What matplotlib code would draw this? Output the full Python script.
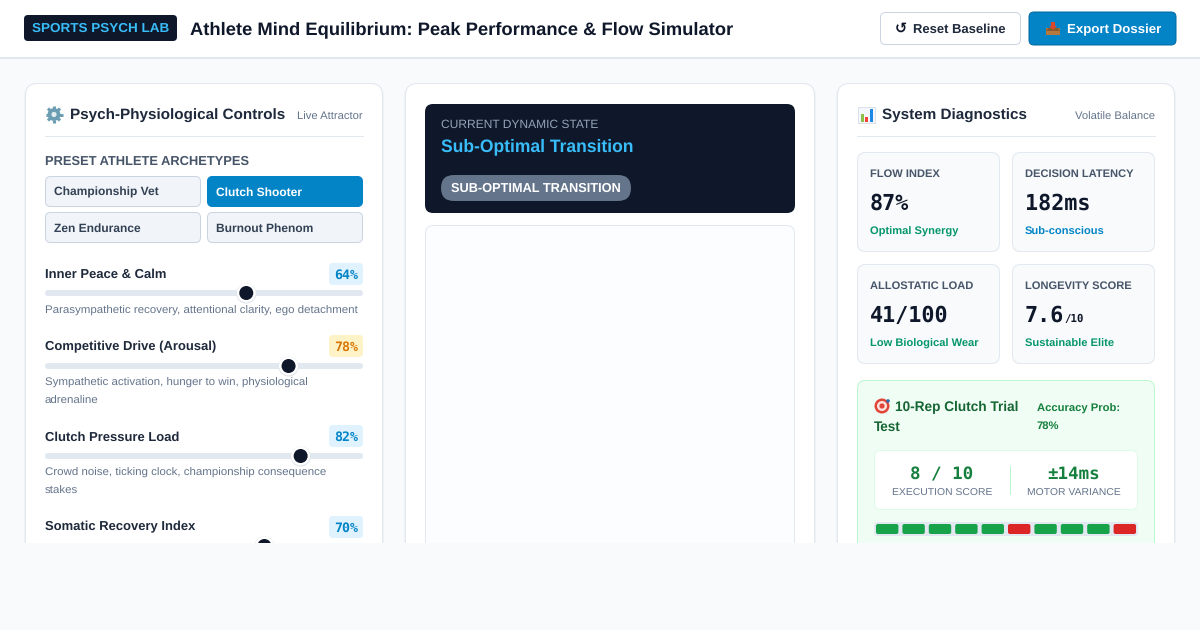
import numpy as np
import matplotlib
matplotlib.use("Agg")
from matplotlib import pyplot as plt
from matplotlib.patches import Circle, FancyBboxPatch, Polygon, Rectangle

plt.rcParams["text.hinting"] = "no_hinting"

# slider panel
slider_names = ["Inner Peace & Calm", "Competitive Drive (Arousal)", "Clutch Pressure Load", "Somatic Recovery Index"]
slider_values = [64, 78, 82, 70]
slider_notes = [
    ["Parasympathetic recovery, attentional clarity, ego detachment"],
    ["Sympathetic activation, hunger to win, physiological", "adrenaline"],
    ["Crowd noise, ticking clock, championship consequence", "stakes"],
    [],
]
slider_warn = [False, True, False, False]
presets = ["Championship Vet", "Clutch Shooter", "Zen Endurance", "Burnout Phenom"]
active_preset = "Clutch Shooter"

# diagnostics panel
metric_names = ["FLOW INDEX", "DECISION LATENCY", "ALLOSTATIC LOAD", "LONGEVITY SCORE"]
metric_values = ["87%", "182ms", "41/100", "7.6"]
metric_suffix = ["", "", "", "/10"]
metric_notes = ["Optimal Synergy", "Sub-conscious", "Low Biological Wear", "Sustainable Elite"]
metric_note_colors = ["#059669", "#0284c7", "#059669", "#059669"]
trial_results = [1, 1, 1, 1, 1, 0, 1, 1, 1, 0]

SANS = "Liberation Sans"
MONO = "DejaVu Sans Mono"
INK = "#0f172a"
SLATE = "#1e293b"
MUTED = "#64748b"
BLUE = "#0284c7"
LINE = "#e2e8f0"
LW = 0.72

fig = plt.figure(figsize=(12, 6.3), dpi=100, facecolor="#f8fafc")
ax = fig.add_axes([0, 0, 1, 1])
ax.set_xlim(0, 1200)
ax.set_ylim(630, 0)
ax.axis("off")
renderer = fig.canvas.get_renderer()


def box(x0, y0, x1, y1, fill, edge="none", r=8, lw=LW, z=1.0):
    ax.add_patch(FancyBboxPatch((x0 + r, y0 + r), x1 - x0 - 2 * r, y1 - y0 - 2 * r,
                                boxstyle=f"round,pad={r},rounding_size={r}",
                                fc=fill, ec=edge, lw=lw, zorder=z))


def put(x, y, s, px, color, weight="normal", family=SANS, ha="left", width=None):
    t = ax.text(x, y, s, fontsize=px * 0.72, color=color, fontweight=weight,
                family=family, ha=ha, va="baseline", zorder=3)
    # letter spaced css text, scale it to the width it has in the page
    if width:
        t.set_fontsize(t.get_fontsize() * width / t.get_window_extent(renderer).width)
    return t


def card(x0, y0, x1, y1):
    box(x0 - 1, y0 + 1, x1 + 1, y1 + 3, "#eff3f8", r=13, z=0.8)
    box(x0 + 0.5, y0 + 0.5, x1 - 0.5, y1, "white", LINE, r=12, z=1.0)


# header
ax.add_patch(Rectangle((0, 0), 1200, 57, fc="white", ec="none", zorder=0.5))
ax.add_patch(Rectangle((0, 57), 1200, 2, fc=LINE, ec="none", zorder=0.5))
box(24, 15, 177, 41, INK, r=4)
put(32, 32, "SPORTS PSYCH LAB", 12, "#38bdf8", "bold", width=137)
put(190, 34, "Athlete Mind Equilibrium: Peak Performance & Flow Simulator", 21, INK, "bold", width=544)

box(880.5, 12.5, 1020.5, 44.5, "white", "#cbd5e1", r=5)
put(895, 33, "↺", 14.5, INK, "bold", family="DejaVu Sans")
put(913, 33, "Reset Baseline", 13.5, SLATE, "bold", width=93)
box(1029, 12, 1176, 45, BLUE, "#0369a1", r=5)
ax.add_patch(Rectangle((1046, 28), 14, 7, fc="#b5793f", ec="none", zorder=2))
ax.add_patch(Polygon([(1048, 28), (1058, 28), (1060, 31), (1046, 31)], fc="#8a5a2b", ec="none", zorder=2))
ax.add_patch(Polygon([(1051, 22), (1055, 22), (1055, 26), (1057, 26), (1053, 30), (1049, 26), (1051, 26)],
                     fc="#d9482b", ec="none", zorder=2.1))
put(1067, 33, "Export Dossier", 13.5, "white", "bold", width=94)

# three cards
card(25, 83, 383, 640)
card(405, 83, 815, 640)
card(837, 83, 1175, 640)

# left card, gear icon
for a in np.arange(0, 360, 45):
    c, s = np.cos(np.radians(a)), np.sin(np.radians(a))
    ax.plot([54 + 5 * c, 54 + 8.5 * c], [114.5 + 5 * s, 114.5 + 8.5 * s], color="#6b9db3",
            lw=2.2, solid_capstyle="butt", zorder=2)
ax.add_patch(Circle((54, 114.5), 6.4, fc="#6b9db3", ec="none", zorder=2))
ax.add_patch(Circle((54, 114.5), 2.6, fc="#e4edf2", ec="none", zorder=2.1))
put(70.5, 120, "Psych-Physiological Controls", 15.5, SLATE, "bold", width=214.5)
put(363, 119.5, "Live Attractor", 11.2, MUTED, ha="right")
ax.plot([45, 363], [135.5, 135.5], color=LINE, lw=LW, zorder=2)
put(45, 165, "PRESET ATHLETE ARCHETYPES", 12, "#475569", "bold", width=205)

for i, name in enumerate(presets):
    x0 = 45 + 162 * (i % 2)
    y0 = 176 + 36 * (i // 2)
    on = name == active_preset
    box(x0 + 0.5, y0 + 0.5, x0 + 155.5, y0 + 30.5, BLUE if on else "#f1f5f9",
        BLUE if on else "#cbd5e1", r=5)
    put(x0 + 9, y0 + 19.5, name, 12, "white" if on else "#334155", "bold")

label_y = [277.5, 350.5, 440.5, 530.5]
badge_y = [263, 335, 425, 516]
track_y = [293, 366, 456, 546]
for name, val, notes, warn, ly, by, ty in zip(slider_names, slider_values, slider_notes, slider_warn,
                                              label_y, badge_y, track_y):
    put(45, ly, name, 13, SLATE, "bold")
    box(329, by, 363, by + 22, "#fef3c7" if warn else "#e0f2fe", r=4)
    put(346, by + 16, f"{val}%", 13.2, "#d97706" if warn else BLUE, "bold", family=MONO, ha="center")
    box(45, ty - 3, 363, ty + 3, LINE, r=3)
    cx = 53 + 302 * val / 100
    ax.add_patch(Circle((cx, ty + 0.5), 10, fc="#dbe2ea", ec="none", zorder=1.6))
    ax.add_patch(Circle((cx, ty), 9.5, fc="white", ec="none", zorder=1.7))
    ax.add_patch(Circle((cx, ty), 7, fc=INK, ec="none", zorder=1.8))
    for j, line in enumerate(notes):
        put(45, ly + 36 + 18 * j if len(notes) == 1 else ly + 35 + 18 * j, line, 11.5, MUTED)

# middle card
box(425, 104, 795, 213, INK, r=8)
put(441, 128, "CURRENT DYNAMIC STATE", 11.5, "#94a3b8", width=158)
put(441, 151.5, "Sub-Optimal Transition", 18, "#38bdf8", "bold", width=193)
box(441, 175, 631, 201, MUTED, r=13, z=1.2)
put(536, 192, "SUB-OPTIMAL TRANSITION", 12, "white", "bold", ha="center", width=170)
box(425.5, 225.5, 794.5, 640, "#fcfdfe", LINE, r=8)

# right card
ax.add_patch(Rectangle((858, 107), 17, 16, fc="#f4f7fb", ec="#d5dde6", lw=0.6, zorder=2))
ax.add_patch(Rectangle((860.5, 114), 3, 8, fc="#8bc34a", ec="none", zorder=2.1))
ax.add_patch(Rectangle((865, 117), 3, 5, fc="#f44336", ec="none", zorder=2.1))
ax.add_patch(Rectangle((869.5, 109), 3, 13, fc="#1e88e5", ec="none", zorder=2.1))
put(882, 120, "System Diagnostics", 15.5, SLATE, "bold", width=145)
put(1155, 119.5, "Volatile Balance", 11.2, MUTED, ha="right")
ax.plot([857, 1155], [135.5, 135.5], color=LINE, lw=LW, zorder=2)

for i, name in enumerate(metric_names):
    x0 = 857 + 155 * (i % 2)
    y0 = 152 + 112 * (i // 2)
    box(x0 + 0.5, y0 + 0.5, x0 + 142.5, y0 + 99.5, "#f8fafc", LINE, r=8)
    put(x0 + 13, y0 + 25, name, 11.1, "#475569", "bold")
    put(x0 + 13, y0 + 57.5, metric_values[i], 21.8, INK, "bold", family=MONO)
    if metric_suffix[i]:
        put(x0 + 52, y0 + 57.5, metric_suffix[i], 10.8, INK, "bold", family=MONO)
    put(x0 + 13, y0 + 83, metric_notes[i], 11.1, metric_note_colors[i], "bold")

# clutch trial box
box(857.5, 380.5, 1154.5, 640, "#f0fdf4", "#bbf7d0", r=8)
ax.add_patch(Circle((882, 406), 7.5, fc="#e0453a", ec="none", zorder=2))
ax.add_patch(Circle((882, 406), 5, fc="#fbe3df", ec="none", zorder=2.1))
ax.add_patch(Circle((882, 406), 2.6, fc="#e0453a", ec="none", zorder=2.2))
ax.add_patch(Circle((888, 401), 1.8, fc="#2b6cb0", ec="none", zorder=2.3))
put(895, 411, "10-Rep Clutch Trial", 13.5, "#166534", "bold", width=123)
put(874, 431, "Test", 13.5, "#166534", "bold")
put(1037, 412, "Accuracy Prob:", 11.3, "#15803d", "bold")
put(1037, 429, "78%", 11.3, "#15803d", "bold")

box(874.5, 450.5, 1137.5, 509.5, "white", "#dcfce7", r=6)
put(942, 479, "8 / 10", 17.5, "#15803d", "bold", family=MONO, ha="center")
put(1073.5, 479, "±14ms", 17.5, "#15803d", "bold", family=MONO, ha="center")
put(942, 496, "EXECUTION SCORE", 10.5, MUTED, ha="center", width=100)
put(1073.5, 496, "MOTOR VARIANCE", 10.5, MUTED, ha="center", width=94)
ax.plot([1009.5, 1009.5], [466, 494], color="#bbf7d0", lw=LW, zorder=2)

box(874, 522, 1138, 536, LINE, r=4)
seg_w = 22.4
for i, hit in enumerate(trial_results):
    box(876 + i * (seg_w + 4), 524, 876 + i * (seg_w + 4) + seg_w, 534,
        "#16a34a" if hit else "#dc2626", r=2, z=2)

# page is cut off here
ax.add_patch(Rectangle((0, 543), 1200, 87, fc="#f8fafc", ec="none", zorder=5))

fig.savefig("out.png", dpi=100, facecolor=fig.get_facecolor())
